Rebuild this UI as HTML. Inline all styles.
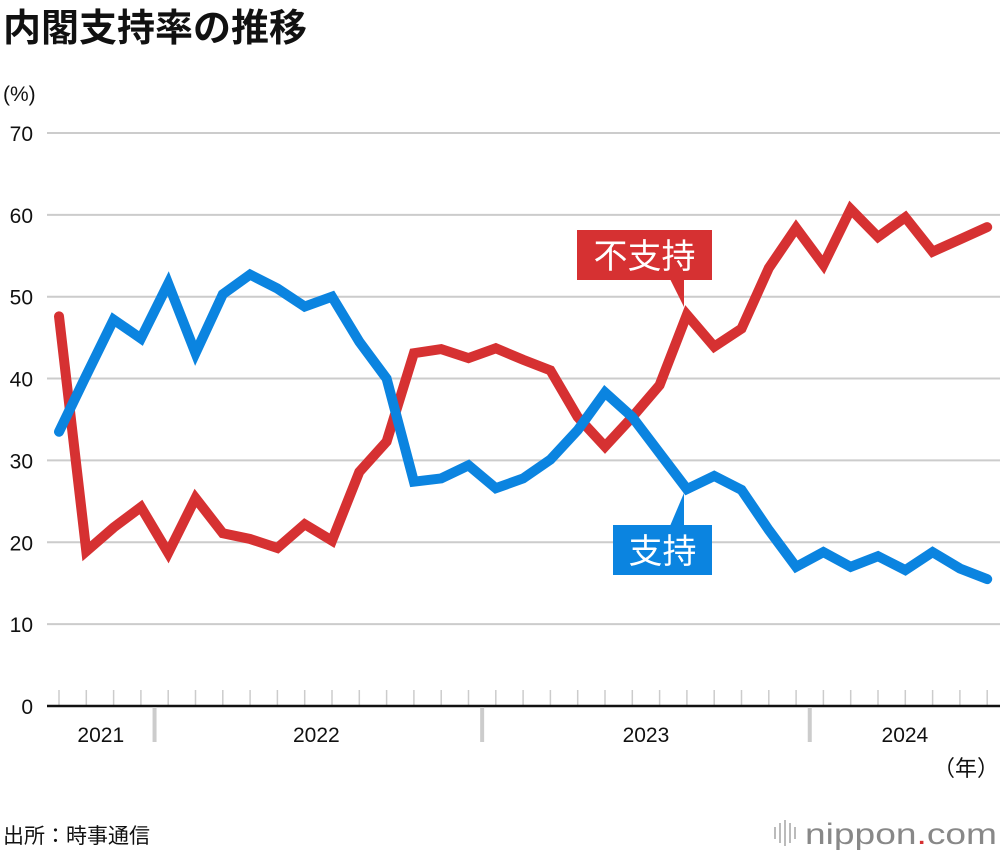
<!DOCTYPE html>
<html><head><meta charset="utf-8">
<style>
body{margin:0;background:#fff;width:1000px;height:856px;overflow:hidden;font-family:"Liberation Sans","Noto Sans CJK JP",sans-serif;}
svg text{font-family:"Liberation Sans","Noto Sans CJK JP",sans-serif;}
</style></head>
<body>
<svg id="chart" width="1000" height="856" viewBox="0 0 1000 856">
<text x="3" y="41" font-size="38" font-weight="bold" fill="#111">内閣支持率の推移</text>
<text x="3" y="101" font-size="21" fill="#111">(%)</text>
<g id="grid"></g>
<g id="xaxis"></g>
<g id="lines"></g>
<g>
<rect x="577" y="230" width="135" height="50" fill="#d63132"/>
<polygon points="670,279 684,279 684,307" fill="#d63132"/>
<text x="644.5" y="268" font-size="34" fill="#fff" text-anchor="middle">不支持</text>
</g>
<g>
<rect x="613" y="525" width="99" height="50" fill="#0b84e0"/>
<polygon points="670,526 684,526 684,493" fill="#0b84e0"/>
<text x="662.5" y="563" font-size="34" fill="#fff" text-anchor="middle">支持</text>
</g>
<text x="999" y="776" font-size="22" fill="#111" text-anchor="end">（年）</text>
<text x="3" y="843" font-size="21" fill="#111">出所：時事通信</text>
<g>
<g fill="#bbb"><rect x="774" y="827" width="2" height="12"/><rect x="779" y="823" width="2" height="20"/><rect x="784" y="820" width="2" height="26"/><rect x="789" y="823" width="2" height="20"/><rect x="794" y="827" width="2" height="12"/></g>
<text x="805" y="844" font-size="30" fill="#888" textLength="192" lengthAdjust="spacingAndGlyphs">nippon<tspan fill="#d63132">.</tspan>com</text>
</g>
</svg>
<script>
const yTicks=[0,10,20,30,40,50,60,70];
const years=["2021","2022","2023","2024"];
const approve=[33.5,40.4,47.2,44.9,51.6,43.1,50.3,52.7,51.0,48.8,50.0,44.5,40.0,27.4,27.8,29.4,26.6,27.8,30.1,33.7,38.3,35.3,30.9,26.5,28.1,26.4,21.5,17.0,18.8,17.0,18.3,16.6,18.8,16.8,15.5];
const disapprove=[47.6,18.9,21.8,24.3,18.7,25.4,21.1,20.4,19.3,22.2,20.2,28.6,32.3,43.1,43.6,42.5,43.7,42.3,41.0,35.3,31.7,35.3,39.2,47.8,43.9,46.1,53.5,58.4,53.9,60.7,57.3,59.7,55.5,57.0,58.5];
const startMonth=9; // Sept 2021
const NS="http://www.w3.org/2000/svg";
const y=v=>706-v*8.186;
const x=i=>59+i*27.3;
function mk(tag,attrs,parent){const e=document.createElementNS(NS,tag);for(const k in attrs)e.setAttribute(k,attrs[k]);parent.appendChild(e);return e;}
const grid=document.getElementById('grid');
yTicks.forEach(v=>{
  if(v>0){const l=mk('line',{x1:47,x2:1000,y1:y(v),y2:y(v),stroke:'#ccc','stroke-width':2},grid);
  
  }
  const t=mk('text',{x:33,y:y(v)+8,'font-size':21,fill:'#111','text-anchor':'end'},grid);
  t.textContent=v;
  
  
});
const xa=document.getElementById('xaxis');
const n=approve.length;
for(let i=-1;i<=n;i++){const xx=x(i); if(xx<47||xx>1000)continue;
  const t=mk('line',{x1:xx,x2:xx,y1:690,y2:706,stroke:'#ccc','stroke-width':1.5},xa);
  
  }
const ax=mk('line',{x1:47,x2:1000,y1:706,y2:706,stroke:'#111','stroke-width':2.5},xa);


const bounds=[];
for(let k=0;k<3;k++){const idx=(12-startMonth+1)+12*k; bounds.push(x(idx)-13.65);}
bounds.forEach(b=>{const r=mk('rect',{x:b-2,y:707,width:4,height:35,fill:'#ccc'},xa);
  
  });
const edges=[47,...bounds,1000];
years.forEach((yr,k)=>{const t=mk('text',{x:(edges[k]+edges[k+1])/2-(k==1?2:0),y:742,'font-size':21,fill:'#111','text-anchor':'middle'},xa);
  t.textContent=yr;
  
  });
const lines=document.getElementById('lines');
[[disapprove,'#d63132','disapprove-line'],[approve,'#0b84e0','approve-line']].forEach(([d,c,nm])=>{
  const p=mk('polyline',{points:d.map((v,i)=>x(i)+','+y(v)).join(' '),fill:'none',stroke:c,'stroke-width':10,'stroke-linejoin':'miter','stroke-linecap':'round'},lines);
  
  
});
</script>
</body></html>
